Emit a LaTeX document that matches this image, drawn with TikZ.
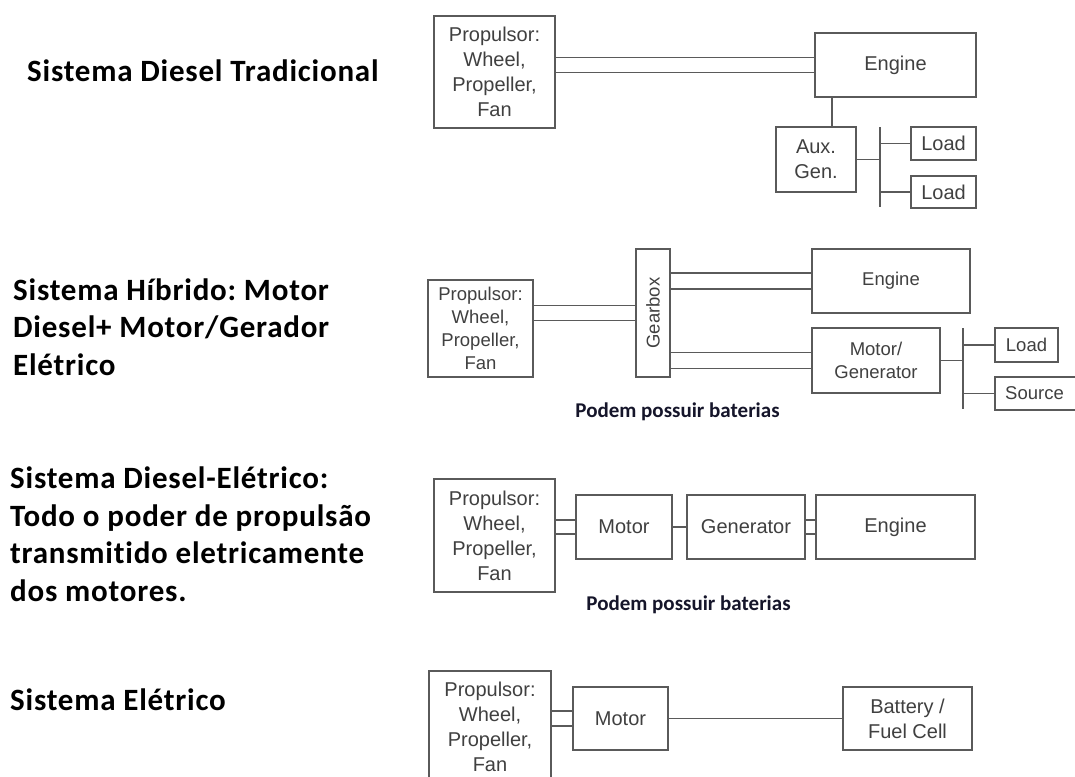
\documentclass[tikz,border=0pt]{standalone}
\usepackage{fontspec}
\setmainfont{Liberation Sans}
\newfontfamily\titlefont[LetterSpace=2.5,Ligatures={NoCommon,NoRare,NoDiscretionary}]{Carlito}
\newfontfamily\notefont{Carlito}
\usetikzlibrary{calc}
\frenchspacing
\definecolor{boxgray}{HTML}{5A5A5A}
\definecolor{textgray}{HTML}{404040}
\definecolor{notecol}{HTML}{15152A}
\newcommand\bx[7][]{\node[blk,#1,minimum width={#4-#2},minimum height={#5-#3}] (#7) at ({(#2+#4)/2},{(#3+#5)/2}) {#6};}
\newcommand\twin[3]{%
  \coordinate (tw1) at ($(#2)+(0,-#3)$);
  \coordinate (tw2) at ($(#2)+(0,#3)$);
  \draw[conn] (tw1 -| #1) -- (tw1);
  \draw[conn] (tw2 -| #1) -- (tw2);}
\begin{document}
\begin{tikzpicture}[x=1pt,y=-1pt,
  blk/.style={draw=boxgray,line width=1.2pt,rectangle,inner sep=0pt,text=textgray,
    font=\fontsize{20}{25}\selectfont,align=center},
  small/.style={font=\fontsize{18.5}{23}\selectfont},
  conn/.style={draw=boxgray,line width=1.2pt},
  ttl/.style={font=\titlefont\bfseries\fontsize{31}{37.5}\selectfont,align=left,anchor=west,inner sep=0pt},
  note/.style={font=\notefont\bfseries\fontsize{21}{25}\selectfont,text=notecol,inner sep=0pt}]
\useasboundingbox[fill=white] (0,0) rectangle (1075,776);

% titles
\node[ttl] (t1) at (27,71) {Sistema Diesel Tradicional};
\node[ttl] (t2) at (13,327) {Sistema Híbrido: Motor\\Diesel+ Motor/Gerador\\Elétrico};
\node[ttl] (t3) at (10,534) {Sistema Diesel-Elétrico:\\Todo o poder de propulsão\\transmitido eletricamente\\dos motores.};
\node[ttl] (t4) at (10,700) {Sistema Elétrico};

% row 1
\bx{434}{16}{555}{128}{Propulsor:\\Wheel,\\Propeller,\\Fan}{p1}
\bx{815}{33}{976}{97}{Engine}{e1}
\bx{776}{127}{856}{192}{Aux.\\Gen.}{a1}
\bx{911}{127}{976}{160}{Load}{l1a}
\bx{911}{176}{976}{208}{Load}{l1b}
\twin{p1.east}{e1.west}{7.5}
\coordinate (b1t) at (880,127);
\coordinate (b1b) at (880,207);
\draw[conn] (b1t) -- (b1b);
\draw[conn] (a1.east) -- (a1.east -| b1t);
\draw[conn] (l1a.west) -- (l1a.west -| b1t);
\draw[conn] (l1b.west) -- (l1b.west -| b1t);
\coordinate (d1) at ($(a1.north)+(16,0)$);
\draw[conn] (d1) -- (d1 |- e1.south);

% row 2
\bx[small]{428}{280}{533}{377}{Propulsor:\\Wheel,\\Propeller,\\Fan}{p2}
\bx[small]{636}{249}{670}{377}{\rotatebox{90}{Gearbox}}{g2}
\bx[small]{812}{249}{970}{313}{Engine}{e2}
\bx[small]{812}{328}{940}{393}{Motor/\\Generator}{m2}
\bx[small]{995}{328}{1058}{362}{Load}{ld2}
\bx[small]{995}{377}{1090}{410}{\hspace*{-16pt}Source}{src2}
\twin{p2.east}{g2.west}{7.5}
\twin{g2.east}{e2.west}{8}
\twin{g2.east}{m2.west}{8}
\coordinate (b2t) at (963,328);
\coordinate (b2b) at (963,409);
\draw[conn] (b2t) -- (b2b);
\draw[conn] (m2.east) -- (m2.east -| b2t);
\draw[conn] (ld2.west) -- (ld2.west -| b2t);
\draw[conn] (src2.west) -- (src2.west -| b2t);
\node[note] (n1) at (677.5,412) {Podem possuir baterias};

% row 3
\bx{434}{479}{555}{592}{Propulsor:\\Wheel,\\Propeller,\\Fan}{p3}
\bx{576}{495}{672}{559}{Motor}{m3}
\bx{687}{495}{805}{559}{Generator}{g3}
\bx{816}{495}{975}{559}{Engine}{e3}
\twin{p3.east}{m3.west}{7}
\draw[conn] (m3.east) -- (g3.west);
\twin{g3.east}{e3.west}{7}
\node[note] (n2) at (688.5,605) {Podem possuir baterias};

% row 4
\bx{429}{671}{551}{783}{Propulsor:\\Wheel,\\Propeller,\\Fan}{p4}
\bx{573}{687}{668}{750}{Motor}{m4}
\bx{843}{687}{972}{750}{Battery /\\Fuel Cell}{bat4}
\twin{p4.east}{m4.west}{7.5}
\draw[conn] (m4.east) -- (bat4.west);
\end{tikzpicture}
\end{document}
